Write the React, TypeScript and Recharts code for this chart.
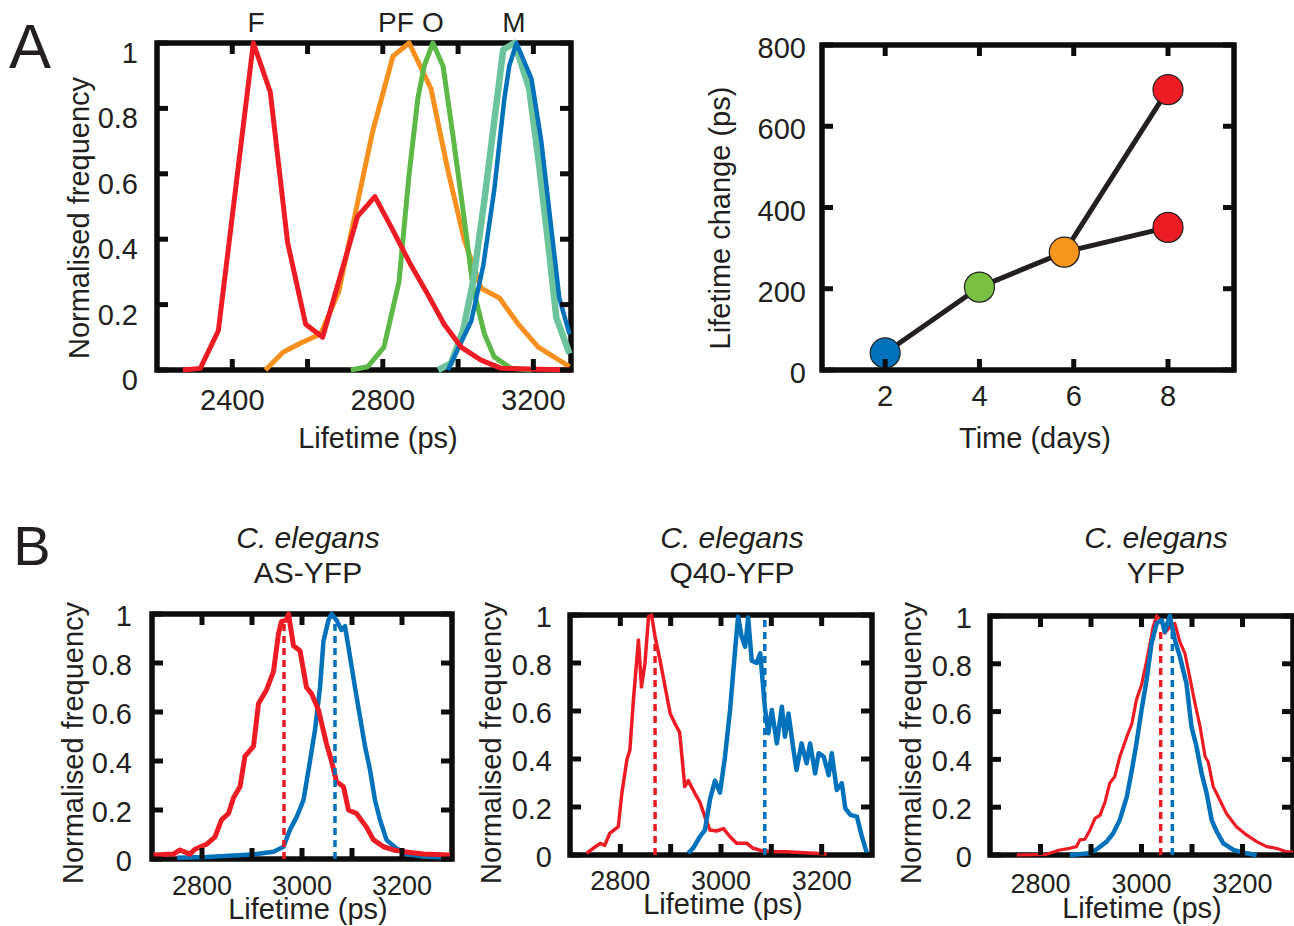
import React from 'react';
import { LineChart, Line, XAxis, YAxis, ReferenceArea } from 'recharts';

const W = 1294;
const H = 926;
const FONT = '"Liberation Sans", Arial, Helvetica, sans-serif';
const INK = '#231f20';
const FRAME = '#0d0d0d';

const RED = '#ed1c24';
const ORANGE = '#f7901e';
const GREEN = '#5cb947';
const TEAL = '#6cc49c';
const BLUE = '#0072bc';

// Panel A left: lifetime histograms, [lifetime ps, normalised frequency]
const A_RED = [[2269, 0], [2315, 0.005], [2363, 0.12], [2456, 1.0], [2501, 0.85], [2547, 0.39], [2595, 0.14], [2640, 0.1], [2733, 0.47], [2779, 0.53], [2821, 0.44], [2875, 0.32], [2920, 0.23], [2963, 0.14], [3008, 0.07], [3061, 0.03], [3115, 0.005], [3300, 0]];
const A_ORANGE = [[2488, 0], [2536, 0.055], [2586, 0.085], [2635, 0.11], [2683, 0.24], [2773, 0.73], [2827, 0.96], [2870, 1.0], [2928, 0.86], [2973, 0.61], [3016, 0.4], [3061, 0.25], [3110, 0.22], [3160, 0.14], [3213, 0.07], [3296, 0.01]];
const A_GREEN = [[2715, 0], [2760, 0.01], [2803, 0.07], [2843, 0.27], [2870, 0.6], [2893, 0.83], [2910, 0.93], [2933, 1.0], [2960, 0.93], [2986, 0.72], [3013, 0.49], [3040, 0.25], [3070, 0.11], [3096, 0.04], [3141, 0.005], [3195, 0]];
const A_TEAL = [[2947, 0], [2981, 0.02], [3013, 0.12], [3040, 0.27], [3070, 0.52], [3096, 0.76], [3120, 0.98], [3150, 1.0], [3189, 0.86], [3216, 0.62], [3243, 0.35], [3261, 0.16], [3296, 0.05]];
const A_BLUE = [[2973, 0], [3035, 0.15], [3067, 0.32], [3096, 0.55], [3123, 0.83], [3136, 0.93], [3155, 1.0], [3195, 0.89], [3221, 0.7], [3248, 0.43], [3269, 0.22], [3296, 0.11]];

// Panel A right: lifetime change vs time, [days, ps]
const TIME_MAIN = [[2, 42], [4, 204], [5.8, 290], [8, 351]];
const TIME_BRANCH = [[5.8, 290], [8, 690]];
const MAIN_DOT_COLORS = [BLUE, '#7ac143', '#f7941d', RED];
const BRANCH_DOT_COLORS = [null, RED];

// Panel B: C. elegans histograms, [lifetime ps, normalised frequency]
const AS_RED = [[2703, 0.016], [2743, 0.02], [2756, 0.037], [2776, 0.02], [2786, 0.04], [2809, 0.06], [2826, 0.09], [2839, 0.16], [2853, 0.186], [2863, 0.25], [2876, 0.295], [2886, 0.42], [2903, 0.46], [2913, 0.635], [2929, 0.69], [2943, 0.765], [2953, 0.92], [2959, 0.97], [2969, 0.975], [2973, 1.0], [2983, 0.87], [2996, 0.85], [3009, 0.7], [3019, 0.675], [3033, 0.608], [3049, 0.47], [3059, 0.4], [3069, 0.316], [3083, 0.295], [3093, 0.2], [3109, 0.186], [3129, 0.13], [3143, 0.078], [3163, 0.05], [3183, 0.037], [3203, 0.03], [3243, 0.02], [3296, 0.016]];
const AS_BLUE = [[2750, 0.005], [2809, 0.008], [2909, 0.02], [2943, 0.03], [2963, 0.05], [2976, 0.12], [2989, 0.17], [3003, 0.24], [3016, 0.4], [3026, 0.527], [3036, 0.7], [3043, 0.89], [3053, 0.975], [3059, 1.0], [3069, 0.975], [3079, 0.935], [3086, 0.95], [3096, 0.826], [3106, 0.7], [3116, 0.58], [3126, 0.46], [3136, 0.364], [3146, 0.24], [3156, 0.16], [3169, 0.078], [3189, 0.043], [3209, 0.02], [3243, 0.01], [3296, 0.005]];
const AS_RED_MEAN = [[2964, 0], [2964, 0.97]];
const AS_BLUE_MEAN = [[3066, 0], [3066, 0.98]];

const Q40_RED = [[2733, 0.007], [2746, 0.028], [2760, 0.048], [2769, 0.04], [2779, 0.09], [2796, 0.118], [2803, 0.257], [2813, 0.396], [2819, 0.438], [2826, 0.646], [2836, 0.896], [2842, 0.7], [2849, 0.8], [2856, 0.993], [2862, 1.0], [2869, 0.91], [2879, 0.81], [2889, 0.7], [2899, 0.59], [2908, 0.55], [2918, 0.51], [2928, 0.285], [2935, 0.31], [2948, 0.257], [2958, 0.22], [2968, 0.16], [2978, 0.104], [2991, 0.1], [3005, 0.11], [3018, 0.076], [3031, 0.049], [3051, 0.049], [3064, 0.028], [3078, 0.02], [3104, 0.014], [3130, 0.014], [3157, 0.01], [3184, 0.007], [3210, 0.004]];
const Q40_BLUE = [[2935, 0.007], [2945, 0.03], [2958, 0.076], [2968, 0.104], [2978, 0.23], [2988, 0.31], [2998, 0.26], [3008, 0.41], [3018, 0.604], [3028, 0.854], [3034, 0.993], [3041, 0.91], [3048, 0.868], [3054, 0.99], [3061, 0.81], [3071, 0.8], [3078, 0.84], [3087, 0.618], [3094, 0.507], [3101, 0.604], [3111, 0.465], [3121, 0.618], [3127, 0.493], [3134, 0.59], [3144, 0.438], [3150, 0.354], [3160, 0.465], [3170, 0.382], [3177, 0.465], [3187, 0.34], [3194, 0.424], [3204, 0.41], [3214, 0.333], [3220, 0.424], [3230, 0.271], [3240, 0.299], [3247, 0.194], [3257, 0.167], [3270, 0.16], [3280, 0.076], [3290, 0.007]];
const Q40_RED_MEAN = [[2869, 0], [2869, 0.9]];
const Q40_BLUE_MEAN = [[3087, 0], [3087, 1.0]];

const YFP_RED = [[2753, 0], [2812, 0.003], [2838, 0.021], [2858, 0.028], [2871, 0.035], [2878, 0.063], [2888, 0.066], [2898, 0.105], [2908, 0.153], [2918, 0.167], [2928, 0.223], [2937, 0.3], [2947, 0.328], [2957, 0.411], [2971, 0.495], [2981, 0.55], [2990, 0.649], [3000, 0.711], [3010, 0.81], [3017, 0.886], [3023, 0.955], [3030, 1.0], [3040, 0.976], [3046, 0.928], [3056, 0.955], [3066, 0.969], [3076, 0.892], [3086, 0.844], [3096, 0.739], [3106, 0.634], [3116, 0.537], [3126, 0.411], [3132, 0.39], [3142, 0.286], [3152, 0.244], [3168, 0.174], [3188, 0.118], [3208, 0.084], [3228, 0.056], [3248, 0.035], [3267, 0.028], [3287, 0.014], [3300, 0.012]];
const YFP_BLUE = [[2858, 0], [2898, 0.007], [2914, 0.028], [2931, 0.056], [2944, 0.091], [2957, 0.147], [2971, 0.244], [2981, 0.356], [2990, 0.467], [3000, 0.606], [3010, 0.732], [3020, 0.886], [3030, 0.969], [3040, 0.983], [3046, 0.934], [3056, 1.0], [3066, 0.9], [3076, 0.83], [3089, 0.718], [3099, 0.537], [3109, 0.453], [3119, 0.342], [3129, 0.258], [3139, 0.146], [3149, 0.098], [3162, 0.049], [3182, 0.021], [3208, 0.007], [3228, 0]];
const YFP_RED_MEAN = [[3038, 0], [3038, 0.95]];
const YFP_BLUE_MEAN = [[3061, 0], [3061, 0.94]];

const FREQ_TICKS = [0, 0.2, 0.4, 0.6, 0.8, 1];
const A_LIFE_TICKS = [2400, 2600, 2800, 3000, 3200];
const A_LIFE_LABELS = [2400, 2800, 3200];
const B_LIFE_TICKS = [2800, 2900, 3000, 3100, 3200];
const B_LIFE_LABELS = [2800, 3000, 3200];
const DAY_TICKS = [2, 4, 6, 8];
const CHANGE_TICKS = [0, 200, 400, 600, 800];

const pts = (arr: number[][]) => arr.map(([x, y]) => ({ x, y }));

type Geo = {
  left: number; top: number; right: number; bottom: number;
  xDomain: [number, number]; yDomain: [number, number];
  xTicks: number[]; xLabels: number[]; yTicks: number[];
  xBase: number; xFont: number; yRight: number; yDy: number;
};

const TICK_LEN = 11;

const makeXTick = (g: Geo) => (props: any) => {
  const v = props.payload.value;
  const x = props.payload.coordinate;
  return (
    <g>
      <line x1={x} x2={x} y1={g.bottom} y2={g.bottom - TICK_LEN} stroke={FRAME} strokeWidth={5} />
      <line x1={x} x2={x} y1={g.top} y2={g.top + TICK_LEN} stroke={FRAME} strokeWidth={5} />
      {g.xLabels.includes(v) && (
        <text x={x} y={g.xBase} textAnchor="middle" fontSize={g.xFont} fontFamily={FONT} fill={INK}>{v}</text>
      )}
    </g>
  );
};

const makeYTick = (g: Geo) => (props: any) => {
  const v = props.payload.value;
  const y = props.payload.coordinate;
  return (
    <g>
      <line x1={g.left} x2={g.left + TICK_LEN} y1={y} y2={y} stroke={FRAME} strokeWidth={5} />
      <line x1={g.right} x2={g.right - TICK_LEN} y1={y} y2={y} stroke={FRAME} strokeWidth={5} />
      <text x={g.yRight} y={y + g.yDy} textAnchor="end" fontSize={29} fontFamily={FONT} fill={INK}>{v}</text>
    </g>
  );
};

// axes get a 1px box: recharts skips drawing an axis whose box is empty
const Panel = ({ g, children }: { g: Geo; children: React.ReactNode }) => (
  <div style={{ position: 'absolute', left: 0, top: 0 }}>
    <LineChart
      width={W}
      height={H}
      margin={{ top: g.top, left: g.left - 1, right: W - g.right, bottom: H - g.bottom - 1 }}
    >
      <XAxis dataKey="x" type="number" domain={g.xDomain} ticks={g.xTicks} interval={0} height={1}
        axisLine={false} tickLine={false} tick={makeXTick(g)} />
      <YAxis type="number" domain={g.yDomain} ticks={g.yTicks} interval={0} width={1}
        axisLine={false} tickLine={false} tick={makeYTick(g)} />
      {children}
      <ReferenceArea x1={g.xDomain[0]} x2={g.xDomain[1]} y1={g.yDomain[0]} y2={g.yDomain[1]}
        fill="none" stroke={FRAME} strokeWidth={5.5} ifOverflow="visible" />
    </LineChart>
  </div>
);

const curve = (data: number[][], color: string, width: number, dash?: string) => (
  <Line data={pts(data)} dataKey="y" type="linear" stroke={color} strokeWidth={width}
    strokeDasharray={dash} dot={false} strokeLinejoin="round" isAnimationActive={false} />
);

const dotOf = (colors: (string | null)[]) => (p: any) => {
  const c = colors[p.index];
  if (!c) return <g key={`d-${p.index}`} />;
  return <circle key={`d-${p.index}`} cx={p.cx} cy={p.cy} r={15} fill={c} stroke={INK} strokeWidth={1.2} />;
};

const G_A1: Geo = { left: 157, top: 43, right: 571, bottom: 370, xDomain: [2200, 3300], yDomain: [0, 1],
  xTicks: A_LIFE_TICKS, xLabels: A_LIFE_LABELS, yTicks: FREQ_TICKS, xBase: 410, xFont: 29, yRight: 138, yDy: 20 };
const G_A2: Geo = { left: 822, top: 45, right: 1234, bottom: 370, xDomain: [0.66, 9.4], yDomain: [0, 800],
  xTicks: DAY_TICKS, xLabels: DAY_TICKS, yTicks: CHANGE_TICKS, xBase: 406, xFont: 29, yRight: 806, yDy: 13 };
const G_B1: Geo = { left: 152, top: 614, right: 452, bottom: 859, xDomain: [2700, 3300], yDomain: [0, 1],
  xTicks: B_LIFE_TICKS, xLabels: B_LIFE_LABELS, yTicks: FREQ_TICKS, xBase: 895, xFont: 27, yRight: 132, yDy: 12 };
const G_B2: Geo = { left: 570, top: 615, right: 872, bottom: 855, xDomain: [2700, 3300], yDomain: [0, 1],
  xTicks: B_LIFE_TICKS, xLabels: B_LIFE_LABELS, yTicks: FREQ_TICKS, xBase: 890, xFont: 27, yRight: 552, yDy: 12 };
const G_B3: Geo = { left: 990, top: 616, right: 1293, bottom: 855, xDomain: [2700, 3300], yDomain: [0, 1],
  xTicks: B_LIFE_TICKS, xLabels: B_LIFE_LABELS, yTicks: FREQ_TICKS, xBase: 893, xFont: 27, yRight: 972, yDy: 12 };

const T = (props: any) => <text fontFamily={FONT} fill={INK} textAnchor="middle" {...props} />;
const VT = ({ x, y, children }: any) => (
  <text transform={`translate(${x},${y}) rotate(-90)`} fontFamily={FONT} fill={INK} textAnchor="middle" fontSize={29}>{children}</text>
);

export default function App() {
  return (
    <div style={{ position: 'absolute', left: 0, top: 0, width: W, height: H, background: '#fff', overflow: 'hidden' }}>
      <Panel g={G_A1}>
        {curve(A_ORANGE, ORANGE, 5)}
        {curve(A_GREEN, GREEN, 5)}
        {curve(A_TEAL, TEAL, 6.5)}
        {curve(A_BLUE, BLUE, 4.5)}
        {curve(A_RED, RED, 5)}
      </Panel>

      <Panel g={G_A2}>
        <Line data={pts(TIME_BRANCH)} dataKey="y" type="linear" stroke={INK} strokeWidth={5}
          dot={dotOf(BRANCH_DOT_COLORS)} isAnimationActive={false} />
        <Line data={pts(TIME_MAIN)} dataKey="y" type="linear" stroke={INK} strokeWidth={5}
          dot={dotOf(MAIN_DOT_COLORS)} isAnimationActive={false} />
      </Panel>

      <Panel g={G_B1}>
        {curve(AS_BLUE, BLUE, 4.5)}
        {curve(AS_RED, RED, 5)}
        {curve(AS_RED_MEAN, RED, 3.5, '7 5')}
        {curve(AS_BLUE_MEAN, BLUE, 3.5, '7 5')}
      </Panel>

      <Panel g={G_B2}>
        {curve(Q40_RED, RED, 3.5)}
        {curve(Q40_BLUE, BLUE, 4.5)}
        {curve(Q40_RED_MEAN, RED, 3.5, '7 5')}
        {curve(Q40_BLUE_MEAN, BLUE, 3.5, '7 5')}
      </Panel>

      <Panel g={G_B3}>
        {curve(YFP_RED, RED, 3.2)}
        {curve(YFP_BLUE, BLUE, 4.5)}
        {curve(YFP_RED_MEAN, RED, 3.5, '7 5')}
        {curve(YFP_BLUE_MEAN, BLUE, 3.5, '7 5')}
      </Panel>

      <svg width={W} height={H} style={{ position: 'absolute', left: 0, top: 0, pointerEvents: 'none' }}>
        <T x={30} y={68} fontSize={63}>A</T>
        <T x={32} y={565} fontSize={56}>B</T>

        <T x={256} y={32} fontSize={28}>F</T>
        <T x={396} y={32} fontSize={28}>PF</T>
        <T x={433} y={32} fontSize={28}>O</T>
        <T x={514} y={32} fontSize={28}>M</T>

        <VT x={89} y={218}>Normalised frequency</VT>
        <T x={378} y={448} fontSize={29}>Lifetime (ps)</T>
        <VT x={730} y={218}>Lifetime change (ps)</VT>
        <T x={1035} y={448} fontSize={29}>Time (days)</T>

        <T x={308} y={548} fontSize={30} fontStyle="italic">C. elegans</T>
        <T x={308} y={583} fontSize={30}>AS-YFP</T>
        <T x={732} y={548} fontSize={30} fontStyle="italic">C. elegans</T>
        <T x={732} y={583} fontSize={30}>Q40-YFP</T>
        <T x={1156} y={548} fontSize={30} fontStyle="italic">C. elegans</T>
        <T x={1156} y={583} fontSize={30}>YFP</T>

        <VT x={83} y={743}>Normalised frequency</VT>
        <VT x={501} y={743}>Normalised frequency</VT>
        <VT x={921} y={743}>Normalised frequency</VT>
        <T x={308} y={919} fontSize={29}>Lifetime (ps)</T>
        <T x={723} y={914} fontSize={29}>Lifetime (ps)</T>
        <T x={1142} y={918} fontSize={29}>Lifetime (ps)</T>
      </svg>
    </div>
  );
}
